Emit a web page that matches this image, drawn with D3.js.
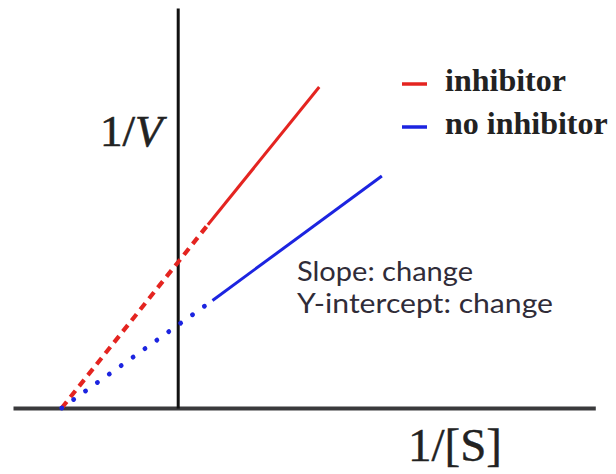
<!DOCTYPE html>
<html>
<head>
<meta charset="utf-8">
<script src="https://cdn.jsdelivr.net/npm/d3@7"></script>
<style>
  html, body { margin: 0; padding: 0; background: #fff; }
  svg { display: block; }
</style>
</head>
<body>
<svg id="chart" width="616" height="474"></svg>
<script>
// Lineweaver–Burk plot: 1/V against 1/[S], with and without inhibitor.
const seriesNames = ["inhibitor", "no inhibitor"];
const seriesColors = ["#e42420", "#1c24e0"];

// Points along each line: x-intercept, start of measured range, end of measured range.
const invS_inhibitor = [-1, 0.26, 1.22];
const invV_inhibitor = [0, 2.18, 3.82];
const invS_noInhibitor = [-1, 0.30, 1.76];
const invV_noInhibitor = [0, 1.28, 2.76];

const annotationLines = ["Slope: change", "Y-intercept: change"];
const annotationWidths = [176, 256];

const svg = d3.select("#chart");

const x = d3.scaleLinear().domain([-1.42, 3.6]).range([13, 595.3]);
const y = d3.scaleLinear().domain([0, 4.76]).range([408, 8]);

// Axes through the origin, no ticks.
const xAxis = svg.append("g")
  .attr("transform", `translate(0,${y(0)})`)
  .call(d3.axisBottom(x).tickValues([]).tickSizeOuter(0));
xAxis.select(".domain").attr("stroke", "#3a3a3c").attr("stroke-width", 4);

const yAxis = svg.append("g")
  .attr("transform", `translate(${x(0)},0)`)
  .call(d3.axisLeft(y).tickValues([]).tickSizeOuter(0));
yAxis.select(".domain").attr("stroke", "#111").attr("stroke-width", 3);

const line = d3.line().x(d => x(d[0])).y(d => y(d[1]));

const series = [
  { xs: invS_inhibitor, ys: invV_inhibitor, color: seriesColors[0], dash: "8,6", cap: "butt", w: 4.2 },
  { xs: invS_noInhibitor, ys: invV_noInhibitor, color: seriesColors[1], dash: "0.1,14.5", cap: "round", w: 4.8 }
];

series.forEach(s => {
  const pts = s.xs.map((v, i) => [v, s.ys[i]]);
  // extrapolated part
  svg.append("path")
    .attr("d", line(pts.slice(0, 2)))
    .attr("fill", "none")
    .attr("stroke", s.color)
    .attr("stroke-width", s.w)
    .attr("stroke-dasharray", s.dash)
    .attr("stroke-linecap", s.cap);
  // measured part
  svg.append("path")
    .attr("d", line(pts.slice(1)))
    .attr("fill", "none")
    .attr("stroke", s.color)
    .attr("stroke-width", 3);
});

// Axis titles
const serif = "'Liberation Serif', 'DejaVu Serif', serif";
const yTitle = svg.append("text")
  .attr("x", 100).attr("y", 146)
  .attr("font-family", serif).attr("font-size", 45).attr("fill", "#222")
  .attr("stroke", "#222").attr("stroke-width", 0.6);
yTitle.append("tspan").text("1/");
yTitle.append("tspan").attr("font-style", "italic").text("V");

svg.append("text")
  .attr("x", 408).attr("y", 461)
  .attr("font-family", serif).attr("font-size", 47).attr("fill", "#222")
  .attr("stroke", "#222").attr("stroke-width", 0.4)
  .text("1/[S]");

// Legend
const legend = svg.append("g");
seriesNames.forEach((name, i) => {
  const ly = 84 + i * 43;
  legend.append("line")
    .attr("x1", 402).attr("x2", 427).attr("y1", ly).attr("y2", ly)
    .attr("stroke", seriesColors[i]).attr("stroke-width", 3.5);
  legend.append("text")
    .attr("x", 445).attr("y", ly + 7)
    .attr("font-family", serif).attr("font-size", 32).attr("font-weight", "bold")
    .attr("fill", "#222")
    .text(name);
});

// Annotation
annotationLines.forEach((t, i) => {
  svg.append("text")
    .attr("x", 297).attr("y", 281 + i * 32)
    .attr("font-family", "Lato, 'Open Sans', sans-serif").attr("font-size", 26)
    .attr("textLength", annotationWidths[i]).attr("lengthAdjust", "spacingAndGlyphs")
    .attr("fill", "#302c38")
    .text(t);
});
</script>
</body>
</html>
